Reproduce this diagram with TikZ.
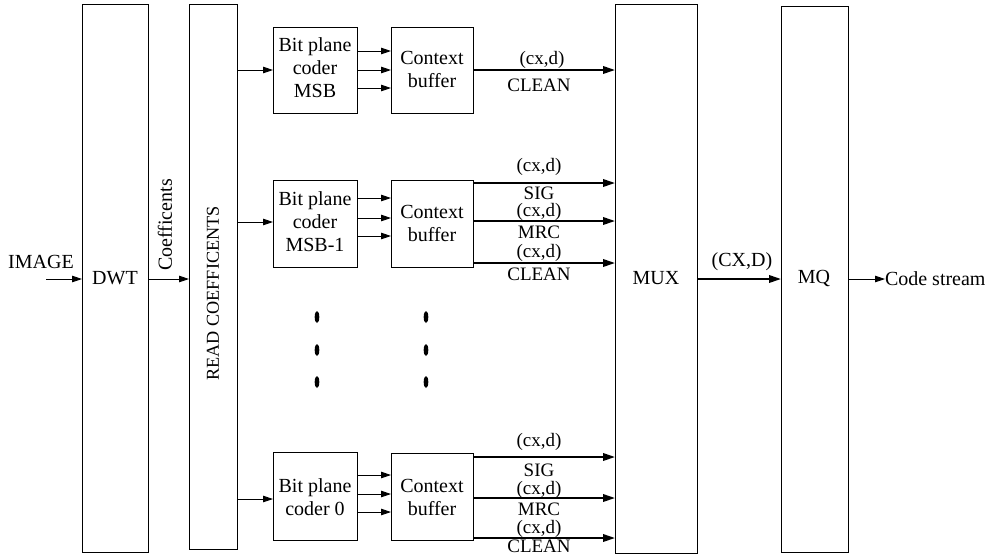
\documentclass[tikz,border=0pt]{standalone}
\usepackage{fontspec}
\setmainfont{Liberation Serif}
\usetikzlibrary{arrows.meta}
\begin{document}
\begin{tikzpicture}[x=1pt,y=-1pt,
  every node/.style={font=\fontsize{20}{23}\selectfont, inner sep=0pt, outer sep=0pt},
  blk/.style={draw, line width=1pt, minimum width=#1, anchor=center},
  thinarr/.style={line width=0.9pt, -{Triangle[length=10pt,width=6.5pt]}},
  thickarr/.style={line width=2pt, -{Triangle[length=12pt,width=7.5pt]}},
  lbl/.style={font=\fontsize{19}{21}\selectfont},
  dot/.style={fill=black, draw=none}]
\useasboundingbox (0,0) rectangle (996,558);
% big boxes
\node[blk=66pt, minimum height=548pt] (dwt) at (115,278) {};
\node[blk=48pt, minimum height=545pt] (read) at (213,276.5) {};
\node[blk=82pt, minimum height=549pt] (mux) at (656,278.5) {};
\node[blk=67pt, minimum height=546pt] (mq) at (814.5,279) {};
% coder boxes
\node[blk=84pt, minimum height=86pt] (bp1) at (315,70) {};
\node[blk=82pt, minimum height=86pt] (cb1) at (432,70) {};
\node[blk=84pt, minimum height=87pt] (bp2) at (315,223.5) {};
\node[blk=82pt, minimum height=87pt] (cb2) at (432,223.5) {};
\node[blk=84pt, minimum height=88pt] (bp3) at (315,496) {};
\node[blk=82pt, minimum height=87pt] (cb3) at (432,496.5) {};
% texts in boxes
\node[align=center, font=\fontsize{20}{23}\selectfont] (bp1t) at (315,68) {Bit plane\\coder\\MSB};
\node[align=center, font=\fontsize{20}{23}\selectfont] (cb1t) at (432,69) {Context\\buffer};
\node[align=center, font=\fontsize{20}{23}\selectfont] (bp2t) at (315,222) {Bit plane\\coder\\MSB-1};
\node[align=center, font=\fontsize{20}{23}\selectfont] (cb2t) at (432,223) {Context\\buffer};
\node[align=center, font=\fontsize{20}{23}\selectfont] (bp3t) at (315,497) {Bit plane\\coder 0};
\node[align=center, font=\fontsize{20}{23}\selectfont] (cb3t) at (432,497) {Context\\buffer};
\node (dwtt) at (115,278) {DWT};
\node (muxt) at (656,278) {MUX};
\node (mqt) at (814,278) {MQ};
\node[rotate=90, font=\fontsize{18.2}{22}\selectfont] (readt) at (213,293.5) {READ COEFFICENTS};
\node[rotate=90] (coef) at (165,225) {Coefficents};
\node (imaget) at (41,262) {IMAGE};
\node[anchor=west] (cs) at (885,279) {Code stream};
\node (cxD) at (742,262) {(CX,D)};
% input chain
\coordinate (imgin) at (46,279);
\draw[thinarr] (imgin) -- (imgin -| dwt.west);
\coordinate (y0) at (0,279);
\draw[thinarr] (dwt.east |- y0) -- (read.west |- y0);
% read -> bit plane coders
\coordinate (ya) at (0,70);
\coordinate (yb) at (0,222);
\coordinate (yc) at (0,499);
\draw[thinarr] (read.east |- ya) -- (bp1.west |- ya);
\draw[thinarr] (read.east |- yb) -- (bp2.west |- yb);
\draw[thinarr] (read.east |- yc) -- (bp3.west |- yc);
% bit plane -> context buffer
\foreach \yy [count=\i] in {51,70,88}{
  \coordinate (s1\i) at (0,\yy);
  \draw[thinarr] (bp1.east |- s1\i) -- (cb1.west |- s1\i);}
\foreach \yy [count=\i] in {198,218,236}{
  \coordinate (s2\i) at (0,\yy);
  \draw[thinarr] (bp2.east |- s2\i) -- (cb2.west |- s2\i);}
\foreach \yy [count=\i] in {475,494,512}{
  \coordinate (s3\i) at (0,\yy);
  \draw[thinarr] (bp3.east |- s3\i) -- (cb3.west |- s3\i);}
% context buffer -> MUX
\draw[thickarr] (cb1.east |- ya) -- (mux.west |- ya);
\node[lbl] (l11) at (542,60) {(cx,d)};
\node[lbl] (l12) at (539,85) {CLEAN};
\foreach \yy [count=\i] in {183,221,263}{
  \coordinate (o2\i) at (0,\yy);
  \draw[thickarr] (cb2.east |- o2\i) -- (mux.west |- o2\i);}
\node[lbl] (l21) at (539,167) {(cx,d)};
\node[lbl] (l22) at (539,193) {SIG};
\node[lbl] (l23) at (539,212) {(cx,d)};
\node[lbl] (l24) at (539,232) {MRC};
\node[lbl] (l25) at (539,253) {(cx,d)};
\node[lbl] (l26) at (539,274) {CLEAN};
\foreach \yy [count=\i] in {457,498,538}{
  \coordinate (o3\i) at (0,\yy);
  \draw[thickarr] (cb3.east |- o3\i) -- (mux.west |- o3\i);}
\node[lbl] (l31) at (539,442) {(cx,d)};
\node[lbl] (l32) at (539,470.5) {SIG};
\node[lbl] (l33) at (539,490) {(cx,d)};
\node[lbl] (l34) at (539,509) {MRC};
\node[lbl] (l35) at (539,528.5) {(cx,d)};
\node[lbl] (l36) at (539,546) {CLEAN};
% mux -> mq -> code stream
\draw[thickarr] (mux.east |- y0) -- (mq.west |- y0);
\draw[thinarr] (mq.east |- y0) -- (cs.west);
% dots
\foreach \xx in {317,426}{
  \foreach \yy in {317,350,382}{
    \fill[dot] (\xx,\yy) ellipse [x radius=2.3pt, y radius=6pt];}}
\end{tikzpicture}
\end{document}
